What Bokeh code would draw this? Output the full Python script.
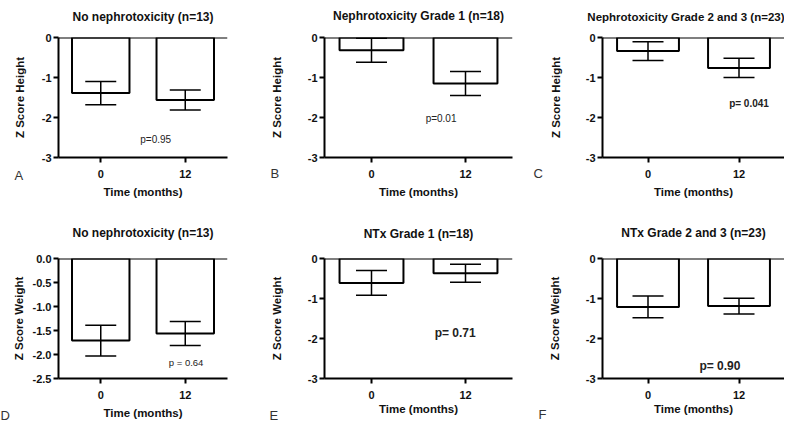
from bokeh.plotting import figure
from bokeh.models import (ColumnDataSource, FactorRange, Range1d, FixedTicker,
                          Whisker, TeeHead, Span, Label, Title)
from bokeh.layouts import gridplot
from bokeh.core.properties import value
from bokeh.embed import file_html
from bokeh.resources import INLINE

FONT = "Liberation Sans"

# ---------------- data ----------------
times = ["0", "12"]

titles = ["No nephrotoxicity (n=13)", "Nephrotoxicity Grade 1 (n=18)",
          "Nephrotoxicity Grade 2 and 3 (n=23)", "No nephrotoxicity (n=13)",
          "NTx Grade 1 (n=18)", "NTx Grade 2 and 3 (n=23)"]
panel_letters = ["A", "B", "C", "D", "E", "F"]
y_titles = ["Z Score Height", "Z Score Height", "Z Score Height",
            "Z Score Weight", "Z Score Weight", "Z Score Weight"]
x_title = "Time (months)"

means_A = [-1.39, -1.56]
sem_A = [0.29, 0.25]
means_B = [-0.32, -1.15]
sem_B = [0.30, 0.30]
means_C = [-0.34, -0.76]
sem_C = [0.235, 0.24]
means_D = [-1.71, -1.56]
sem_D = [0.32, 0.25]
means_E = [-0.61, -0.37]
sem_E = [0.31, 0.225]
means_F = [-1.21, -1.19]
sem_F = [0.27, 0.195]

p_texts = ["p=0.95", "p=0.01", "p= 0.041", "p = 0.64", "p= 0.71", "p= 0.90"]
p_x = [1.15, 1.24, 1.61, 1.51, 1.39, 1.29]
p_y = [-2.56, -2.03, -1.65, -2.17, -1.85, -2.68]

ticks_3 = [0, -1, -2, -3]
tick_labels_3 = ["0", "-1", "-2", "-3"]
ticks_25 = [0, -0.5, -1.0, -1.5, -2.0, -2.5]
tick_labels_25 = ["0.0", "-0.5", "-1.0", "-1.5", "-2.0", "-2.5"]

all_means = [means_A, means_B, means_C, means_D, means_E, means_F]
all_sems = [sem_A, sem_B, sem_C, sem_D, sem_E, sem_F]

# ---------------- layout / style ----------------
# (width, height, left, right, top, bottom, ylabel_standoff)
geom = [
    (257, 215, 44, 30, 36, 57, 13),
    (265, 215, 67, 10, 33, 58, 22),
    (262, 215, 79, 0, 37, 56, 21),
    (257, 210, 54, 22, 42, 47, 5),
    (265, 210, 67, 8, 42, 43, 22),
    (262, 210, 80, 0, 43, 43, 22),
]
spacer_standoff = [11, 12, 12, 16, 15, 16]
p_style = [("normal", "10px"), ("normal", "10px"), ("bold", "10px"),
           ("normal", "9.5px"), ("bold", "12px"), ("bold", "12px")]
# (side panel, x, y) for the panel letters
letter_place = [("below", -44, 40), ("below", -54, 42), ("below", -69, 42),
                ("left", 0, -37), ("left", 11, -37), ("left", 1, -36)]

figs = []
for i in range(6):
    w, h, bl, br, bt, bb, yls = geom[i]
    if i == 3:
        ticks, tlabels = ticks_25, tick_labels_25
    else:
        ticks, tlabels = ticks_3, tick_labels_3
    ymin = ticks[-1]
    p = figure(width=w, height=h, x_range=FactorRange(*times, range_padding=0),
               y_range=Range1d(ymin, 0), output_backend="svg",
               toolbar_location=None, min_border_left=bl, min_border_right=br,
               min_border_top=bt, min_border_bottom=bb)
    p.outline_line_color = None
    p.xgrid.visible = False
    p.ygrid.visible = False
    p.background_fill_color = "white"

    p.title.text = titles[i]
    p.title.align = "right" if i == 2 else "center"
    p.title.text_font = FONT
    p.title.text_font_size = "11.5px" if i == 2 else "12px"
    p.title.text_font_style = "bold"
    p.title.text_color = "#111111"
    p.title.standoff = 0
    # invisible spacer between title and frame
    p.add_layout(Title(text=" ", text_font_size="1px", standoff=spacer_standoff[i]), "above")

    for ax in (p.xaxis[0], p.yaxis[0]):
        ax.axis_line_width = 2
        ax.axis_line_color = "black"
        ax.major_tick_line_width = 2
        ax.major_tick_line_color = "black"
        ax.major_tick_out = 5
        ax.major_tick_in = 0
        ax.minor_tick_line_color = None
        ax.major_label_text_font = FONT
        ax.major_label_text_font_style = "bold"
        ax.major_label_text_font_size = "11px"
        ax.major_label_text_color = "#111111"
        ax.axis_label_text_font = FONT
        ax.axis_label_text_font_style = "bold"
        ax.axis_label_text_font_size = "11.5px"
        ax.axis_label_text_color = "#111111"

    p.xaxis.axis_label = x_title
    p.xaxis.major_label_standoff = 7
    p.xaxis.axis_label_standoff = 5 if i < 4 else 1

    p.yaxis.axis_label = y_titles[i]
    p.yaxis.ticker = FixedTicker(ticks=ticks)
    p.yaxis.major_label_overrides = {t: l for t, l in zip(ticks, tlabels)}
    p.yaxis.major_label_standoff = 2
    p.yaxis.axis_label_standoff = yls

    means = all_means[i]
    sems = all_sems[i]
    src = ColumnDataSource(dict(
        x=times, mean=means,
        upper=[m + s for m, s in zip(means, sems)],
        lower=[m - s for m, s in zip(means, sems)]))

    p.vbar(x="x", top=0, bottom="mean", width=0.68, source=src,
           fill_color="white", line_color="black", line_width=2)
    wk = Whisker(base="x", upper="upper", lower="lower", source=src,
                 dimension="height", line_color="black", line_width=1.5,
                 level="overlay",
                 upper_head=TeeHead(size=31, line_color="black", line_width=1.5),
                 lower_head=TeeHead(size=31, line_color="black", line_width=1.5))
    p.add_layout(wk)

    p.add_layout(Span(location=0, dimension="width", line_color="black", line_width=2))

    fs, fz = p_style[i]
    p.text(x=[p_x[i]], y=[p_y[i]], text=[p_texts[i]], text_font=value(FONT),
           text_font_size=fz, text_font_style=fs, text_align="center",
           text_baseline="middle", text_color="#222222")

    side, lx, ly = letter_place[i]
    p.add_layout(Label(x=lx, y=ly, x_units="screen", y_units="screen",
                       text=panel_letters[i], text_font=FONT, text_font_size="13px",
                       text_color="#333333", text_align="left",
                       text_baseline="middle"), side)
    figs.append(p)

grid = gridplot([figs[:3], figs[3:]], toolbar_location=None)

open("out.html", "w").write(file_html(grid, INLINE))
